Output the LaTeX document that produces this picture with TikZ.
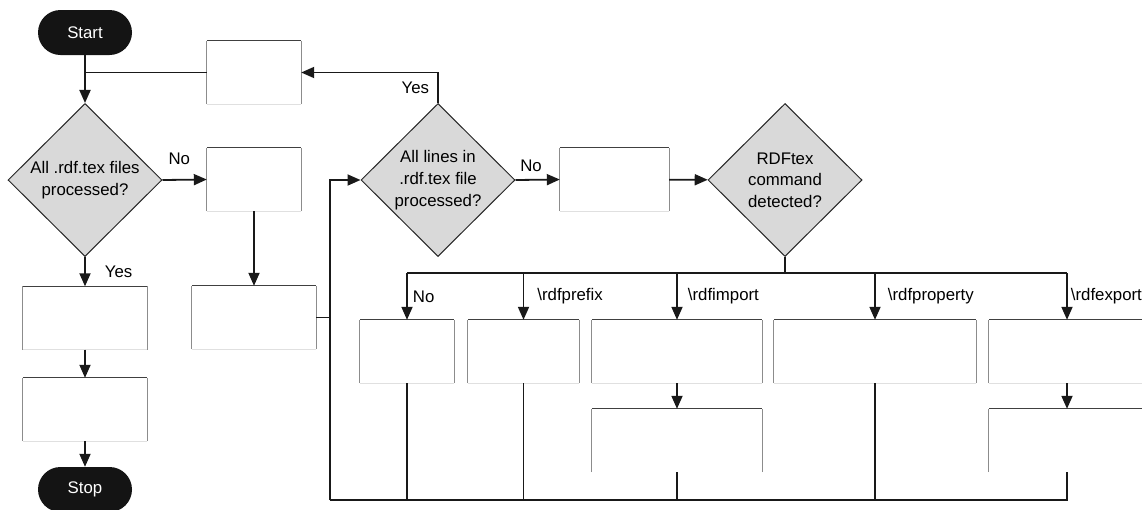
\documentclass[tikz,border=0pt]{standalone}
\usepackage{fontspec}
\setmainfont{Liberation Sans}
\usetikzlibrary{shapes.geometric,arrows.meta,positioning}
\tikzset{
  every node/.style={font=\fontsize{16.8}{21.7}\selectfont},
  term/.style={rectangle, rounded corners=22.5pt, fill=black!92, text=white,
    minimum width=94pt, minimum height=45pt, inner sep=0pt},
  decide/.style={diamond, fill=gray!30, draw=black!85, line width=1pt,
    minimum width=154pt, minimum height=153pt, inner sep=0pt, align=center},
  proc/.style={rectangle, minimum width=#1, minimum height=63pt, inner sep=0pt},
  conn/.style={line width=1.8pt, draw=black!90, -{Triangle[length=13pt,width=11pt]}},
  wire/.style={line width=1.8pt, draw=black!90},
  lbl/.style={inner sep=0pt},
  boxtop/.style={draw=black!75, line width=1.2pt},
  boxside/.style={draw=black!45, line width=1pt},
  boxfoot/.style={draw=black!12, line width=1pt},
}
\begin{document}
\begin{tikzpicture}[x=1pt, y=-1pt]
  \useasboundingbox (0,0) rectangle (1142,509);
  \clip (0,0) rectangle (1142,509);
  % outer loop over the files
  \node[term] (start) at (85,32.5) {Start};
  \node[proc=94pt] (b1) at (254,72.5) {};
  \node[decide] (d1) at (85,180) {All .rdf.tex files\\processed?};
  \node[proc=94pt] (b2) at (254,179.5) {};
  \node[proc=124pt] (b3) at (254,317.5) {};
  \node[proc=124pt] (b5) at (85,318) {};
  \node[proc=124pt] (b6) at (85,409.5) {};
  \node[term] (stop) at (85,489.5) {Stop};
  % inner loop over the lines
  \node[decide] (d2) at (438,180) {All lines in\\.rdf.tex file\\processed?};
  \node[proc=109pt] (b4) at (614.5,179.5) {};
  \node[decide] (d3) at (785,180) {RDFtex\\command\\detected?};
  \coordinate[below=16pt of d3.south] (sp);
  \coordinate (lp) at (330,500);
  % one box per command
  \node[proc=94pt] (rn) at (407,351.5) {};
  \node[proc=111pt] (rp) at (523.5,351.5) {};
  \node[proc=170pt] (ri) at (677,351.5) {};
  \node[proc=202pt] (rq) at (875,351.5) {};
  \node[proc=156pt] (re) at (1067,351.5) {};
  \node[proc=170pt] (li) at (677,440.5) {};
  \node[proc=156pt] (le) at (1067,440.5) {};
  % box edges
  \foreach \bx in {b1,b2,b3,b4,b5,b6,rn,rp,ri,rq,re}
    \draw[boxfoot] (\bx.south west) -- (\bx.south east);
  \foreach \bx in {b1,b2,b3,b4,b5,b6,rn,rp,ri,rq,re,li,le}{
    \draw[boxside] (\bx.south west) -- (\bx.north west) (\bx.south east) -- (\bx.north east);
    \draw[boxtop] (\bx.north west) -- (\bx.north east);
  }
  % connectors
  \draw[conn] (start) -- (d1);
  \draw[wire] (b1.west) -- (b1.west -| start.south);
  \draw[conn] (d1.east) -- node[lbl, above=14pt, pos=0.38] {No} (b2.west);
  \draw[conn] (b2) -- (b3);
  \draw[conn] (d1) -- node[lbl, right=19pt] {Yes} (b5);
  \draw[conn] (b5) -- (b6);
  \draw[conn] (b6) -- (stop);
  \draw[wire] (b3.east) -- (b3.east -| lp);
  \draw[conn] (lp) |- (d2.west);
  \draw[conn] (d2.north) |- node[lbl, left=8pt, pos=0.25] {Yes} (b1.east);
  \draw[conn] (d2.east) -- node[lbl, above=7pt, pos=0.35] {No} (b4.west);
  \draw[conn] (b4) -- (d3);
  \draw[wire] (d3.south) -- (sp);
  \draw[wire] (rn.north |- sp) -- (re.north |- sp);
  \foreach \bx/\txt/\off in {rn/No/5pt, rp/\textbackslash rdfprefix/13pt,
      ri/\textbackslash rdfimport/10pt, rq/\textbackslash rdfproperty/12pt,
      re/\textbackslash rdfexport/3pt}
    \draw[conn] (\bx.north |- sp) -- node[lbl, right=\off] {\txt} (\bx.north);
  \draw[conn] (ri) -- (li);
  \draw[conn] (re) -- (le);
  \foreach \bx in {rn,rp,rq}
    \draw[wire] (\bx.south) -- (\bx.south |- lp);
  \draw[wire] (li.south) -- (li.south |- lp);
  \draw[wire] (le.south) |- (lp);
\end{tikzpicture}
\end{document}
